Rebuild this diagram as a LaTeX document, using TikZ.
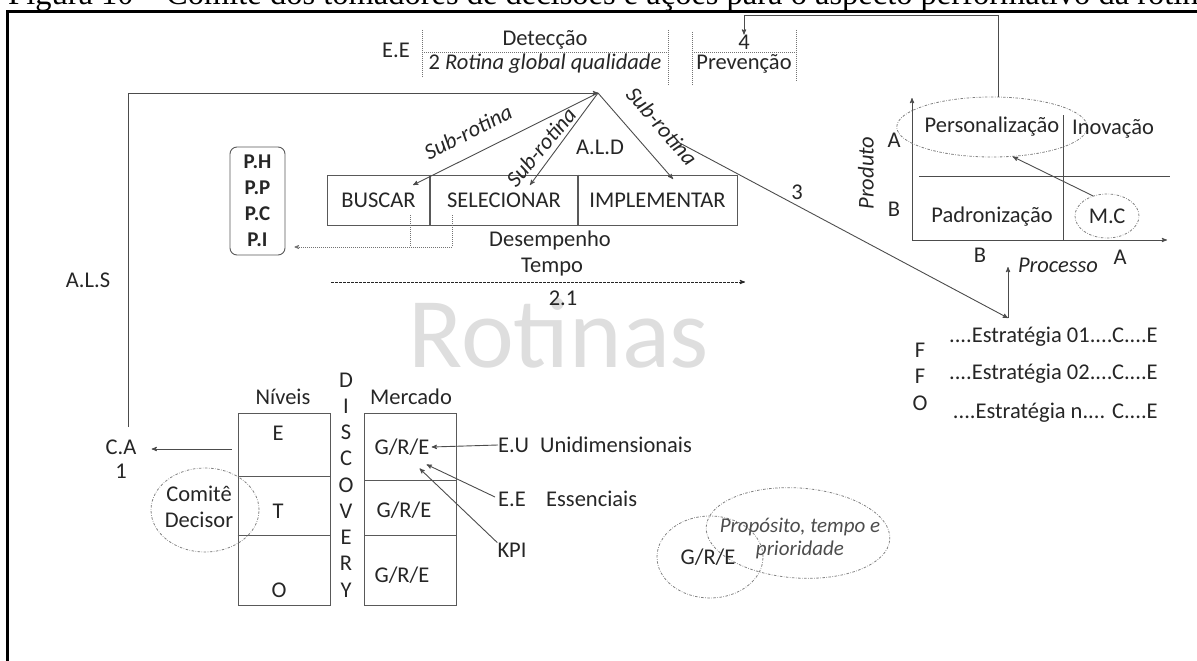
\documentclass[tikz,border=0pt]{standalone}
\usepackage{fontspec}
\setmainfont{Carlito}
\newfontfamily\capfont{Liberation Serif}
\usetikzlibrary{arrows,calc,shapes.geometric}

\begin{document}
\begin{tikzpicture}[x=1pt,y=-1pt,
  txt/.style={font=\fontsize{22.5}{26}\selectfont, inner sep=0pt, text=black!85},
  ln/.style={draw=black!70, line width=0.9pt},
  arr/.style={ln, ->, >=stealth'},
  dots/.style={draw=black!55, line width=0.7pt, dash pattern=on 1pt off 1pt},
  dashdot/.style={draw=black!50, line width=0.8pt, dash pattern=on 2.5pt off 1.5pt on 0.6pt off 1.5pt},
  cell/.style={txt, draw=black!65, line width=0.9pt, minimum height=50pt},
  col/.style={draw=black!65, line width=0.9pt, minimum width=92pt, minimum height=192pt, inner sep=0pt}]
\useasboundingbox (0,0) rectangle (1197,661);
\clip (0,0) rectangle (1197,661);

% caption and frame
\node[anchor=base west, inner sep=0pt, font=\capfont\fontsize{32.5}{32.5}\selectfont] (cap) at (8,5)
  {Figura 10 – Comitê dos tomadores de decisões e ações para o aspecto performativo da rotina};
\draw[line width=3pt] (7,661) -- (7,12) -- (1197,12);

% watermark
\node[anchor=base, inner sep=0pt, text=black!13, font=\fontsize{100}{100}\selectfont] (rot) at (559,367) {Rotinas};

% quality routine header
\node[txt] (ee0) at (396,50) {E.E};
\node[txt] (det) at (545,40) {Detecção};
\node[txt] (rgq) at (545,64) {2 \textit{Rotina global qualidade}};
\node[txt] (four) at (744,42) {4};
\node[txt] (prev) at (744,64) {Prevenção};
\draw[dots] (422,30) -- (422,78) (668,30) -- (668,85) (692,32) -- (692,85) (796,30) -- (796,82);
\draw[dots] (422,52) -- (668,52) (692,52) -- (796,52);

% sub-routines
\coordinate (apex) at (598,93);
\node[cell, minimum width=103pt] (buscar) at (378.5,200) {BUSCAR};
\node[cell, minimum width=148pt] (sel) at (504,200) {SELECIONAR};
\node[cell, minimum width=159pt] (impl) at (657.5,200) {IMPLEMENTAR};
\draw[draw=black!65, line width=2pt] (buscar.north east) -- (buscar.south east) (sel.north east) -- (sel.south east);
\coordinate (tb) at (413,185);
\coordinate (ts) at (530,185);
\coordinate (ti) at (673,179);
\draw[arr] (apex) -- (tb);
\draw[arr] (apex) -- (ts);
\draw[arr] (apex) -- (ti);
\node[txt, rotate=27] (sr1) at (468,132) {\textit{Sub-rotina}};
\node[txt, rotate=50] (sr2) at (541,147) {\textit{Sub-rotina}};
\node[txt, rotate=-49] (sr3) at (662,126) {\textit{Sub-rotina}};
\node[txt] (ald) at (600,147) {A.L.D};

\node[txt, draw=black!65, line width=0.9pt, rounded corners=7pt, minimum width=55pt, minimum height=108pt,
  align=center, font=\fontsize{21}{26}\selectfont\bfseries] (pbox) at (257.5,201) {P.H\\P.P\\P.C\\P.I};
\draw[dots] (410,215) -- (410,247) (452,215) -- (452,247);
\draw[dots, ->, >=stealth'] (452,247) -- ($(pbox.east |- 0,247)+(9,0)$);
\node[txt] (desemp) at (550,240) {Desempenho};
\node[txt] (tempo) at (552,267) {Tempo};
\draw[draw=black!85, line width=0.9pt, dash pattern=on 2.5pt off 1.5pt, ->, >=stealth'] (331,282) -- (745,282);
\node[txt] (t21) at (563,298) {2.1};

% left return path
\node[txt] (als) at (88,280) {A.L.S};
\node[txt] (ca) at (121,447) {C.A};
\node[txt] (one) at (121,471) {1};
\coordinate (alsfoot) at (128,427);
\draw[arr] (alsfoot) |- (apex);

% levels and market
\node[txt] (niv) at (283,397) {Níveis};
\node[txt] (merc) at (411,397) {Mercado};
\node[col] (nivbox) at (284,509) {};
\node[col] (mercbox) at (410.5,509) {};
\draw[ln, draw=black!65] (nivbox.west |- 0,476) -- (nivbox.east |- 0,476) (nivbox.west |- 0,535) -- (nivbox.east |- 0,535);
\draw[ln, draw=black!65] (mercbox.west |- 0,480) -- (mercbox.east |- 0,480) (mercbox.west |- 0,535) -- (mercbox.east |- 0,535);
\node[txt] (lvE) at (278,433) {E};
\node[txt] (lvT) at (278,511) {T};
\node[txt] (lvO) at (279,590) {O};
\foreach \l [count=\i] in {D,I,S,C,O,V,E,R,Y}
  \node[txt] (disc\i) at (346,380+26.25*\i-26.25) {\l};
\node[txt] (gre1) at (402,447) {G/R/E};
\node[txt] (gre2) at (404,510) {G/R/E};
\node[txt] (gre3) at (402,575) {G/R/E};
\draw[arr] ($(nivbox.west |- ca)+(-6,2)$) -- ($(ca.east)+(15,2)$);
\node[dashdot, ellipse, minimum width=108pt, minimum height=84pt] (comite) at (205,510) {};
\node[txt, align=center] (comtxt) at (199,507) {Comitê\\Decisor};

\node[txt, anchor=west] (eu) at (498,445) {E.U};
\node[txt, anchor=west] (unid) at (540,445) {Unidimensionais};
\node[txt, anchor=west] (ee) at (498,499) {E.E};
\node[txt, anchor=west] (ess) at (546,499) {Essenciais};
\node[txt] (kpi) at (512,550) {KPI};
\draw[arr] (eu.west) -- ($(gre1.east)+(2,0)$);
\draw[arr] ($(ee.west)+(-3,-2)$) -- ($(gre1.south east)+(-3,9)$);
\draw[arr] (kpi.north west) -- ($(gre1.south east)+(-10,13)$);

% purpose venn
\node[dashdot, ellipse, minimum width=106pt, minimum height=82pt] (vgre) at (710,557) {};
\node[dashdot, ellipse, minimum width=184pt, minimum height=90pt, rotate=-4] (vprop) at (798,533) {};
\node[txt] (vtxt) at (708,557) {G/R/E};
\node[txt, align=center, text=black!70, font=\fontsize{21}{23}\selectfont\itshape] (ptxt) at (800,538) {Propósito, tempo e\\prioridade};

% product/process matrix
\coordinate (orig) at (912,240);
\draw[arr] (orig) -- (912,98);
\draw[arr] (orig) -- (1167,240);
\draw[ln] (919,176) -- (1170,176) (1063,115) -- (1063,240);
\node[txt, dashdot, ellipse, minimum width=140pt, minimum height=60pt, inner sep=0pt] (pers) at (992,127) {Personalização};
\node[txt] (inov) at (1113,129) {Inovação};
\node[txt] (padr) at (992,217) {Padronização};
\node[txt, dashdot, ellipse, minimum width=64pt, minimum height=44pt] (mc) at (1107,216) {M.C};
\draw[arr] (mc.125) -- (pers.-55);
\node[txt] (ya) at (894,140) {A};
\node[txt] (yb) at (894,209) {B};
\node[txt] (xb) at (980,255) {B};
\node[txt] (xa) at (1120,257) {A};
\node[txt, rotate=90] (prod) at (866,173) {\textit{Produto}};
\node[txt] (proc) at (1058,265) {\textit{Processo}};

% feedback to prevention
\coordinate (fb) at (744,15);
\draw[arr] (pers.78) |- (fb) -- (four.north);

% strategies
\coordinate (l3) at (676,141);
\coordinate (strat) at (1008,318);
\draw[arr] (l3) -- (strat);
\node[txt] (three) at (797,192) {3};
\draw[arr] (strat) -- (1008,267);
\node[txt] (f1) at (920,350) {F};
\node[txt] (f2) at (920,376) {F};
\node[txt] (o1) at (920,403) {O};
\node[txt, anchor=east] (s1) at (1158,337) {....Estratégia 01....C....E};
\node[txt, anchor=east] (s2) at (1158,374) {....Estratégia 02....C....E};
\node[txt, anchor=east] (sn) at (1158,413) {....Estratégia n.... C....E};
\end{tikzpicture}
\end{document}
